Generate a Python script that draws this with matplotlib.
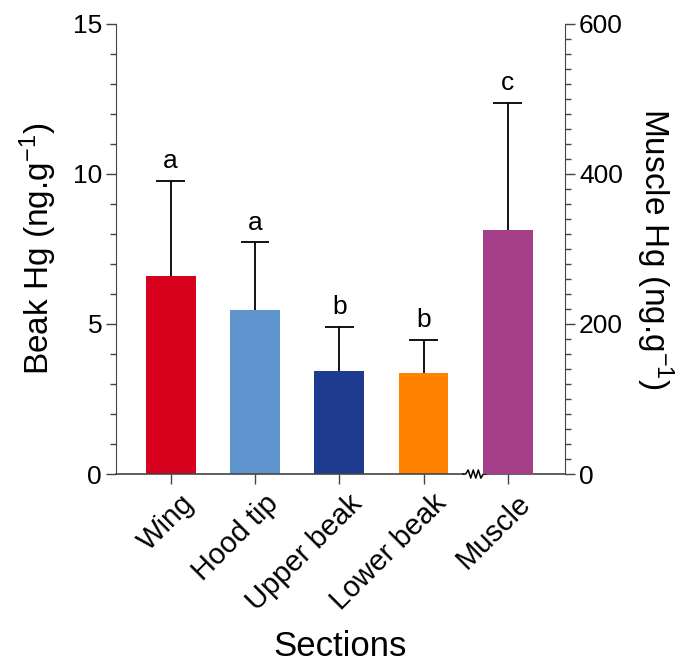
import numpy as np
import matplotlib.pyplot as plt
from matplotlib.ticker import MultipleLocator
import matplotlib.transforms as mtransforms

plt.rcParams['font.family'] = ['Liberation Sans', 'DejaVu Sans']
plt.rcParams['mathtext.fontset'] = 'custom'
plt.rcParams['mathtext.rm'] = 'Liberation Sans'
plt.rcParams['mathtext.it'] = 'Liberation Sans:italic'

sections = ["Wing", "Hood tip", "Upper beak", "Lower beak", "Muscle"]
beak_mean = [6.6, 5.45, 3.42, 3.36]
beak_sd = [3.17, 2.28, 1.48, 1.11]
muscle_mean = [325]
muscle_sd = [170]
letters = ["a", "a", "b", "b", "c"]
colors = ["#D7001D", "#5F95CE", "#1F3B8F", "#FF8200", "#A63E89"]

fig = plt.figure(figsize=(6.92, 6.63), dpi=100)
ax = fig.add_axes([0.1676, 0.285, 0.649, 0.679])
ax2 = ax.twinx()

x = np.arange(len(sections))
w = 0.59
cap = 0.17
ax.bar(x[:4], beak_mean, width=w, color=colors[:4], zorder=2)
ax.vlines(x[:4], beak_mean, np.add(beak_mean, beak_sd), color='black', lw=1.3, zorder=1)
ax.hlines(np.add(beak_mean, beak_sd), x[:4] - cap, x[:4] + cap, color='black', lw=1.3, zorder=1)
ax2.bar(x[4:], muscle_mean, width=w, color=colors[4], zorder=2)
ax2.vlines(x[4:], muscle_mean, np.add(muscle_mean, muscle_sd), color='black', lw=1.3, zorder=1)
ax2.hlines(np.add(muscle_mean, muscle_sd), x[4:] - cap, x[4:] + cap, color='black', lw=1.3, zorder=1)

for i in range(4):
    ax.text(x[i], beak_mean[i] + beak_sd[i] + 0.25, letters[i], ha='center',
            va='bottom', fontsize=19)
ax2.text(x[4], muscle_mean[0] + muscle_sd[0] + 10, letters[4], ha='center',
         va='bottom', fontsize=19)

ax.set_xlim(-0.65, 4.68)
ax.set_ylim(0, 15)
ax2.set_ylim(0, 600)

ax.yaxis.set_major_locator(MultipleLocator(5))
ax.yaxis.set_minor_locator(MultipleLocator(1))
ax2.yaxis.set_major_locator(MultipleLocator(200))
ax2.yaxis.set_minor_locator(MultipleLocator(20))

for a in (ax, ax2):
    a.spines['top'].set_visible(False)
    a.spines['bottom'].set_visible(False)
    a.tick_params(axis='y', which='major', length=7, width=1, labelsize=19, pad=3,
                  color='#444444')
    a.tick_params(axis='y', which='minor', length=4, width=1, color='#444444')
ax.spines['right'].set_visible(False)
ax2.spines['left'].set_visible(False)
ax.spines['left'].set_color('#444444')
ax2.spines['right'].set_color('#444444')

ax.set_xticks(x)
ax.set_xticklabels(sections, rotation=45, ha='right', rotation_mode='anchor', fontsize=21)
ax.tick_params(axis='x', length=7, width=1, pad=4, color='#444444')
shift = mtransforms.ScaledTranslation(9 / 100, 0, fig.dpi_scale_trans)
for lbl in ax.get_xticklabels():
    lbl.set_transform(lbl.get_transform() + shift)

# broken x axis line
trans = mtransforms.blended_transform_factory(ax.transData, ax.transAxes)
brk0, brk1 = 3.47, 3.74
ax.plot([-0.65, brk0], [0, 0], color='#444444', lw=1.2, transform=trans, clip_on=False)
ax.plot([brk1, 4.68], [0, 0], color='#444444', lw=1.2, transform=trans, clip_on=False)
zx = np.linspace(brk0, brk1, 10)
zy = np.array([0, 0, 1, -1, 1, -1, 1, -1, 0, 0]) * 0.009
ax.plot(zx, zy, color='black', lw=1.1, transform=trans, clip_on=False)

ax.set_ylabel("Beak Hg (ng.g$^{-1}$)", fontsize=24, labelpad=10)
ax2.set_ylabel("Muscle Hg (ng.g$^{-1}$)", fontsize=24, rotation=270, labelpad=38)
ax.set_xlabel("Sections", fontsize=25, labelpad=10)

fig.savefig("out.png", dpi=100)
